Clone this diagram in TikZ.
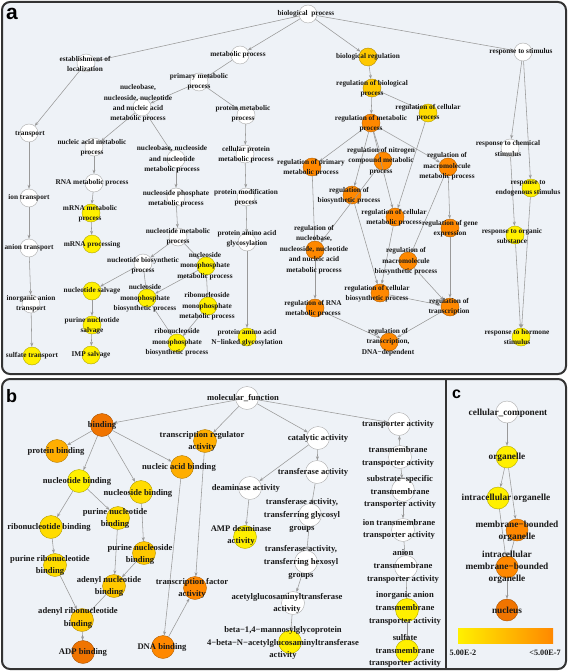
\documentclass[tikz,border=0pt]{standalone}
\usepackage{fontspec}
\setmainfont{Liberation Serif}
\setsansfont{Liberation Sans}
\usetikzlibrary{arrows.meta}
\definecolor{panelbg}{HTML}{EEF2F7}
\definecolor{frame}{HTML}{333333}
\definecolor{edgegray}{HTML}{999999}
\definecolor{yel}{HTML}{FFF000}
\definecolor{yelgold}{HTML}{FFDC00}
\definecolor{gold}{HTML}{FFC800}
\definecolor{amber}{HTML}{FFAE00}
\definecolor{orng}{HTML}{FF8800}
\definecolor{dkorng}{HTML}{F07400}

\begin{document}
\begin{tikzpicture}[x=1pt,y=-1pt,>={Stealth[length=4pt,width=3pt]},
    go/.style={circle,inner sep=0pt,minimum size=18pt,line width=.4pt,draw=gray!65,fill=white},
    hit/.style={go,fill=#1,draw=#1!70!black},
    lab/.style={inner sep=0pt,align=center,text=black!90,font=\bfseries\fontsize{7.3}{10.4}\selectfont},
    edge/.style={->,draw=edgegray,line width=.55pt},
    panel/.style={draw=frame,line width=2pt,fill=panelbg,rounded corners=8pt},
    tag/.style={inner sep=0pt,anchor=base west,font=\sffamily\bfseries}]
  \useasboundingbox (0,0) rectangle (568,671);
  % frames
  \draw[panel] (2,2) rectangle (566,374);
  \draw[panel] (2,379) rectangle (566,669);
  \draw[draw=frame,line width=2pt] (446,379) -- (446,669);
  \node[tag,font=\sffamily\bfseries\fontsize{21}{21}\selectfont] (taga) at (6,20) {a};
  \node[tag,font=\sffamily\bfseries\fontsize{18}{18}\selectfont] (tagb) at (6,402) {b};
  \node[tag,font=\sffamily\bfseries\fontsize{16}{16}\selectfont] (tagc) at (452,398) {c};

  %%%%% a: biological process
  \node[go] (bp) at (308,14) {};
  \node[go] (el) at (86,63) {};
  \node[go] (mp) at (240,55) {};
  \node[hit=gold] (breg) at (368,57) {};
  \node[go] (rs) at (523,52) {};
  \node[go] (tr) at (29,133) {};
  \node[go] (pmp) at (199,82) {};
  \node[go] (nnm) at (142,107) {};
  \node[go] (prm) at (246,115) {};
  \node[go] (nam) at (94,147) {};
  \node[go] (nnn) at (176,159) {};
  \node[go] (cpm) at (245,154) {};
  \node[go] (rna) at (94,183) {};
  \node[go] (ion) at (29,198) {};
  \node[go] (npm) at (176,197) {};
  \node[go] (pmod) at (246,197) {};
  \node[hit=yel] (mrm) at (91,213) {};
  \node[go] (ant) at (29,248) {};
  \node[hit=yel] (mrp) at (92,244) {};
  \node[go] (ntm) at (178,237) {};
  \node[go] (paag) at (247,242) {};
  \node[go] (ntb) at (143,263) {};
  \node[hit=yel] (nsmm) at (206,266) {};
  \node[hit=yel] (nts) at (92,291) {};
  \node[hit=yel] (nsmb) at (147,298) {};
  \node[hit=yel] (rnmm) at (208,306) {};
  \node[go] (iat) at (31,304) {};
  \node[hit=yel] (pns) at (92,325) {};
  \node[hit=yel] (rnmb) at (177,343) {};
  \node[hit=yel] (paan) at (247,337) {};
  \node[hit=yel] (sut) at (32,356) {};
  \node[hit=yel] (imp) at (91,355) {};
  % regulation side
  \node[hit=gold] (rbp) at (372,88) {};
  \node[hit=yelgold] (rcp) at (428,113) {};
  \node[hit=orng] (rmp) at (371,123) {};
  \node[hit=orng] (rnc) at (383,161) {};
  \node[hit=orng] (rpm) at (312,167) {};
  \node[hit=orng] (rmm) at (448,167) {};
  \node[go] (rcs) at (510,148) {};
  \node[hit=yel] (res) at (531,188) {};
  \node[hit=orng] (rbs) at (352,195) {};
  \node[hit=orng] (rcm) at (395,217) {};
  \node[hit=orng] (rge) at (450,228) {};
  \node[hit=yel] (ros) at (515,235) {};
  \node[hit=orng] (rnn) at (315,250) {};
  \node[hit=orng] (rmb) at (408,261) {};
  \node[hit=orng] (rcb) at (380,293) {};
  \node[hit=orng] (rrna) at (315,308) {};
  \node[hit=orng] (rtr) at (450,307) {};
  \node[hit=orng] (rtd) at (389,342) {};
  \node[hit=yel] (rhs) at (521,337) {};

  \foreach \a/\b in {bp/el,bp/mp,bp/breg,bp/rs,el/tr,mp/pmp,pmp/nnm,pmp/prm,nnm/nam,nnm/nnn,
      prm/cpm,cpm/pmod,pmod/paag,paag/paan,tr/ion,ion/ant,ant/iat,iat/sut,nam/rna,rna/mrm,
      mrm/mrp,nnn/npm,npm/ntm,ntm/ntb,ntm/nsmm,ntb/nts,ntb/nsmb,nsmm/nsmb,nsmm/rnmm,
      nsmb/rnmb,rnmm/rnmb,nts/pns,pns/imp}
    \draw[edge] (\a) -- (\b);
  \foreach \a/\b in {breg/rbp,rbp/rmp,rbp/rcp,rmp/rpm,rmp/rnc,rmp/rmm,rmp/rbs,rmp/rcm,
      rcp/rcm,rpm/rnn,rnc/rnn,rmm/rge,rmm/rmb,rbs/rcb,rcm/rcb,rmb/rtr,rge/rtr,rnn/rrna,
      rcb/rtr,rrna/rtd,rtr/rtd,rs/rcs,rs/res,rcs/ros,res/rhs,ros/rhs}
    \draw[edge] (\a) -- (\b);

  \node[lab] (t-bp) at (306,14) {biological\ \ process};
  \node[lab] (t-el) at (85,64) {establishment of\\localization};
  \node[lab] (t-mp) at (238,55) {metabolic process};
  \node[lab] (t-breg) at (368,57) {biological regulation};
  \node[lab] (t-rs) at (521,52) {response to stimulus};
  \node[lab] (t-tr) at (30,134) {transport};
  \node[lab] (t-pmp) at (199,82) {primary metabolic\\process};
  \node[lab] (t-nnm) at (138,103.5) {nucleobase,\\nucleoside, nucleotide\\and nucleic acid\\metabolic process};
  \node[lab] (t-prm) at (243,114) {protein metabolic\\process};
  \node[lab] (t-nam) at (92,148) {nucleic acid metabolic\\process};
  \node[lab] (t-nnn) at (172,159.5) {nucleobase, nucleoside\\and nucleotide\\metabolic process};
  \node[lab] (t-cpm) at (246,155) {cellular protein\\metabolic process};
  \node[lab] (t-rna) at (92,183) {RNA metabolic process};
  \node[lab] (t-ion) at (29,198) {ion transport};
  \node[lab] (t-npm) at (176,198.5) {nucleoside phosphate\\metabolic process};
  \node[lab] (t-pmod) at (246,197.5) {protein modification\\process};
  \node[lab] (t-mrm) at (90,213.5) {mRNA metabolic\\process};
  \node[lab] (t-ant) at (29,248) {anion transport};
  \node[lab] (t-mrp) at (92,245) {mRNA processing};
  \node[lab] (t-ntm) at (178,237) {nucleotide metabolic\\process};
  \node[lab] (t-paag) at (247,238.5) {protein amino acid\\glycosylation};
  \node[lab] (t-ntb) at (143,265.5) {nucleotide biosynthetic\\process};
  \node[lab] (t-nsmm) at (205,266) {nucleoside\\monophosphate\\metabolic process};
  \node[lab] (t-nts) at (92,291) {nucleotide salvage};
  \node[lab] (t-nsmb) at (145,298.5) {nucleoside\\monophosphate\\biosynthetic process};
  \node[lab] (t-rnmm) at (207,306.5) {ribonucleoside\\monophosphate\\metabolic process};
  \node[lab] (t-iat) at (31,303.5) {inorganic anion\\transport};
  \node[lab] (t-pns) at (92,326) {purine nucleotide\\salvage};
  \node[lab] (t-rnmb) at (177,342.5) {ribonucleoside\\monophosphate\\biosynthetic process};
  \node[lab] (t-paan) at (247,338) {protein amino acid\\N−linked glycosylation};
  \node[lab] (t-sut) at (32,356) {sulfate transport};
  \node[lab] (t-imp) at (91,355) {IMP salvage};
  \node[lab] (t-rbp) at (372,88.5) {regulation of biological\\process};
  \node[lab] (t-rcp) at (428,112.5) {regulation of cellular\\process};
  \node[lab] (t-rmp) at (371,123.5) {regulation of metabolic\\process};
  \node[lab] (t-rnc) at (381,161) {regulation of nitrogen\\compound metabolic\\process};
  \node[lab] (t-rpm) at (311,168) {regulation of primary\\metabolic process};
  \node[lab] (t-rmm) at (447,166.5) {regulation of\\macromolecule\\metabolic process};
  \node[lab] (t-rcs) at (508,148.5) {response to chemical\\stimulus};
  \node[lab] (t-res) at (528,188) {response to\\endogenous stimulus};
  \node[lab] (t-rbs) at (349,195.5) {regulation of\\biosynthetic process};
  \node[lab] (t-rcm) at (394,217.5) {regulation of cellular\\metabolic process};
  \node[lab] (t-rge) at (450,229) {regulation of gene\\expression};
  \node[lab] (t-ros) at (512,236) {response to organic\\substance};
  \node[lab] (t-rnn) at (314,249.5) {regulation of\\nucleobase,\\nucleoside, nucleotide\\and nucleic acid\\metabolic process};
  \node[lab] (t-rmb) at (406,261.5) {regulation of\\macromolecule\\biosynthetic process};
  \node[lab] (t-rcb) at (377,294) {regulation of cellular\\biosynthetic process};
  \node[lab] (t-rrna) at (313,309) {regulation of RNA\\metabolic process};
  \node[lab] (t-rtr) at (449,307) {regulation of\\transcription};
  \node[lab] (t-rtd) at (388,342) {regulation of\\transcription,\\DNA−dependent};
  \node[lab] (t-rhs) at (517,337) {response to hormone\\stimulus};

  %%%%% b: molecular function
  \begin{scope}[go/.append style={minimum size=23pt},
      lab/.append style={font=\bfseries\fontsize{8.6}{12.7}\selectfont}]
  \node[go] (mf) at (247,398) {};
  \node[hit=dkorng] (bd) at (102,425) {};
  \node[hit=amber] (tra) at (205,441) {};
  \node[hit=amber] (pb) at (57,451) {};
  \node[hit=amber] (nab) at (182,467) {};
  \node[hit=yel] (ntbd) at (79,481) {};
  \node[hit=yelgold] (nsbd) at (141,492) {};
  \node[hit=yelgold] (pnb) at (118,518) {};
  \node[hit=yelgold] (rnb) at (51,527) {};
  \node[hit=gold] (pnsb) at (144,553) {};
  \node[hit=yelgold] (prb) at (55,565) {};
  \node[hit=gold] (anb) at (114,586) {};
  \node[hit=orng] (tfa) at (195,588) {};
  \node[hit=gold] (arb) at (82,620) {};
  \node[hit=dkorng] (adp) at (83,652) {};
  \node[hit=orng] (dna) at (163,647) {};
  \node[go] (ca) at (318,438) {};
  \node[go] (ta) at (399,424) {};
  \node[go] (tfr) at (317,472) {};
  \node[go] (dea) at (250,488) {};
  \node[go] (tmt) at (400,457) {};
  \node[go] (sst) at (403,490) {};
  \node[go] (tgly) at (310,515) {};
  \node[hit=yel] (amp) at (245,537) {};
  \node[go] (itt) at (403,530) {};
  \node[go] (thex) at (306,562) {};
  \node[go] (att) at (406,567) {};
  \node[go] (agt) at (293,603) {};
  \node[hit=yel] (iatt) at (407,610) {};
  \node[hit=yel] (bmg) at (290,642) {};
  \node[hit=yel] (stt) at (407,651) {};

  \foreach \a/\b in {mf/bd,mf/tra,mf/ca,mf/ta,bd/pb,bd/ntbd,bd/nsbd,bd/nab,ntbd/rnb,ntbd/pnb,
      nsbd/pnsb,pnb/anb,pnsb/anb,rnb/prb,prb/arb,anb/arb,arb/adp,nab/dna,tra/tfa,dna/tfa,
      ca/dea,ca/tfr,dea/amp,tfr/tgly,tgly/thex,thex/agt,agt/bmg,tmt/ta,tmt/sst,sst/itt,
      itt/att,att/iatt,iatt/stt}
    \draw[edge] (\a) -- (\b);

  \node[lab] (t-mf) at (243,398) {molecular\_function};
  \node[lab] (t-bd) at (102,425) {binding};
  \node[lab] (t-tra) at (202,441.5) {transcription regulator\\activity};
  \node[lab] (t-pb) at (56,451) {protein binding};
  \node[lab] (t-nab) at (179,467) {nucleic acid binding};
  \node[lab] (t-ntbd) at (77,481) {nucleotide binding};
  \node[lab] (t-nsbd) at (138,493) {nucleoside binding};
  \node[lab] (t-pnb) at (115,518.5) {purine nucleotide\\binding};
  \node[lab] (t-rnb) at (49,527) {ribonucleotide binding};
  \node[lab] (t-pnsb) at (140,554.5) {purine nucleoside\\binding};
  \node[lab] (t-prb) at (50,565.5) {purine ribonucleotide\\binding};
  \node[lab] (t-anb) at (109,586.5) {adenyl nucleotide\\binding};
  \node[lab] (t-tfa) at (192,588.5) {transcription factor\\activity};
  \node[lab] (t-arb) at (78,618) {adenyl ribonucleotide\\binding};
  \node[lab] (t-adp) at (83,652) {ADP binding};
  \node[lab] (t-dna) at (162,647) {DNA binding};
  \node[lab] (t-ca) at (318,438) {catalytic activity};
  \node[lab] (t-ta) at (398,424) {transporter activity};
  \node[lab] (t-tfr) at (313,472) {transferase activity};
  \node[lab] (t-dea) at (246,488) {deaminase activity};
  \node[lab] (t-tmt) at (398,457) {transmembrane\\transporter activity};
  \node[lab] (t-sst) at (400,492) {substrate−specific\\transmembrane\\transporter activity};
  \node[lab] (t-tgly) at (302,515.5) {transferase activity,\\transferring glycosyl\\groups};
  \node[lab] (t-amp) at (241,535.5) {AMP deaminase\\activity};
  \node[lab] (t-itt) at (399,529.5) {ion transmembrane\\transporter activity};
  \node[lab] (t-thex) at (301,562.5) {transferase activity,\\transferring hexosyl\\groups};
  \node[lab] (t-att) at (403,566.5) {anion\\transmembrane\\transporter activity};
  \node[lab] (t-agt) at (287,603.5) {acetylglucosaminyltransferase\\activity};
  \node[lab] (t-iatt) at (405,608.5) {inorganic anion\\transmembrane\\transporter activity};
  \node[lab] (t-bmg) at (283,643) {beta−1,4−mannosylglycoprotein\\4−beta−N−acetylglucosaminyltransferase\\activity};
  \node[lab] (t-stt) at (405,651) {sulfate\\transmembrane\\transporter activity};
  \end{scope}

  %%%%% c: cellular component
  \begin{scope}[go/.append style={minimum size=22pt},
      lab/.append style={font=\bfseries\fontsize{9.3}{12}\selectfont}]
  \node[go] (cc) at (507,412) {};
  \node[hit=yel] (org) at (507,457) {};
  \node[hit=yel] (ino) at (498,498) {};
  \node[hit=orng] (mbo) at (517,530) {};
  \node[hit=orng] (imbo) at (507,567) {};
  \node[hit=dkorng] (nuc) at (507,610) {};
  \foreach \a/\b in {cc/org,org/ino,org/mbo,ino/imbo,mbo/imbo,imbo/nuc}
    \draw[edge] (\a) -- (\b);
  \node[lab] (t-cc) at (508,413) {cellular\_component};
  \node[lab] (t-org) at (507,457) {organelle};
  \node[lab] (t-ino) at (506,498) {intracellular organelle};
  \node[lab] (t-mbo) at (517,531.5) {membrane−bounded\\organelle};
  \node[lab] (t-imbo) at (507,567) {intracellular\\membrane−bounded\\organelle};
  \node[lab] (t-nuc) at (507,610) {nucleus};
  % colour key
  \shade[left color=yel,right color=orng] (458,628) rectangle (553,643);
  \node[lab,font=\bfseries\fontsize{8.2}{10}\selectfont] (k-lo) at (463,653) {5.00E-2};
  \node[lab,font=\bfseries\fontsize{8.2}{10}\selectfont] (k-hi) at (545,653) {<5.00E-7};
  \end{scope}
\end{tikzpicture}
\end{document}
